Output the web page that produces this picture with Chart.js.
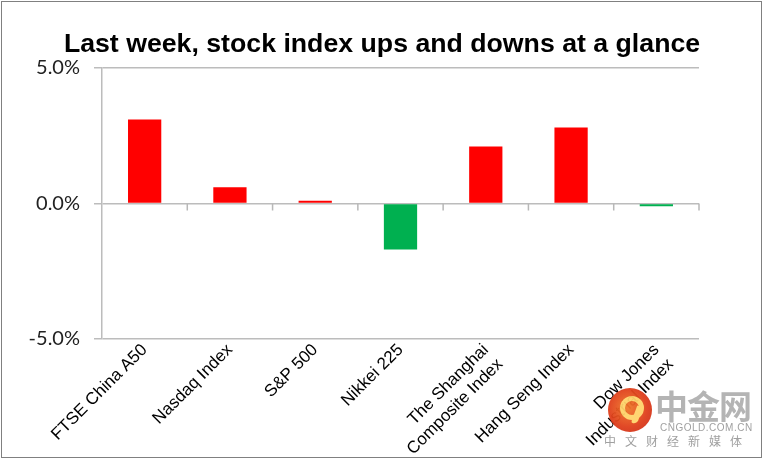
<!DOCTYPE html>
<html><head><meta charset="utf-8">
<script src="https://cdn.jsdelivr.net/npm/chart.js@4.4.0/dist/chart.umd.min.js"></script>
<style>
html,body{margin:0;padding:0;background:#fff;}
#wrap{position:relative;width:764px;height:460px;overflow:hidden;}
#frame{position:absolute;left:1px;top:1px;width:759px;height:455px;border:1px solid #808080;pointer-events:none;}
canvas{position:absolute;left:0;top:0;}
#title{position:absolute;left:0;width:764px;top:28px;text-align:center;font-family:"Liberation Sans";font-weight:700;font-size:26.7px;color:#000;white-space:nowrap;}
#logo{position:absolute;left:608px;top:388px;width:44px;height:44px;border-radius:50%;background:radial-gradient(circle at 45% 45%,#f07a2a 0%,#e0401c 55%,#c8281a 100%);opacity:0.95;}
#logo span{position:absolute;left:12px;top:8px;width:14px;height:14px;border:5px solid #ffd36b;border-radius:50%;}
#logo i{position:absolute;left:26px;top:18px;width:6px;height:18px;background:#ffd36b;border-radius:0 0 6px 2px;transform:rotate(20deg);}
.wm{position:absolute;font-family:"Noto Sans CJK SC",sans-serif;color:#b4b4b4;white-space:nowrap;}
</style></head>
<body><div id="wrap"><canvas id="c" width="764" height="460"></canvas><div id="frame"></div>
<div id="title">Last week, stock index ups and downs at a glance</div>
<div id="logo"><span></span><i></i></div>
<div class="wm" style="left:655px;top:381px;font-size:33px;font-weight:700;letter-spacing:-1px;">中金网</div>
<div class="wm" style="left:660px;top:422px;font-size:10px;font-family:'Liberation Sans';color:#a0a0a0;letter-spacing:0.5px;">CNGOLD.COM.CN</div>
<div class="wm" style="left:604px;top:432px;font-size:12px;color:#a0a0a0;letter-spacing:9px;">中文财经新媒体</div>
</div>
<script>
const categories = [
  "FTSE China A50",
  "Nasdaq Index",
  "S&P 500",
  "Nikkei 225",
  ["The Shanghai", "Composite Index"],
  "Hang Seng Index",
  ["Dow Jones", "Industrial Index"]
];
const weeklyChange = [3.1, 0.6, 0.1, -1.7, 2.1, 2.8, -0.1];
const yTicks = [-5, 0, 5];
const upColor = "#ff0000";
const downColor = "#00b050";

const zeroTicks = {
  id: "zeroTicks",
  afterDatasetsDraw(chart) {
    const x = chart.scales.x, y = chart.scales.y, ctx = chart.ctx;
    const y0 = y.getPixelForValue(0);
    const n = categories.length;
    ctx.save();
    ctx.strokeStyle = "#b8b8b8";
    ctx.lineWidth = 1.5;
    ctx.beginPath();
    for (let i = 1; i <= n; i++) {
      const px = x.left + i * (x.right - x.left) / n;
      ctx.moveTo(px, y0);
      ctx.lineTo(px, y0 + 7);
    }
    ctx.stroke();
    ctx.restore();
  }
};

new Chart(document.getElementById("c"), {
  type: "bar",
  data: {
    labels: categories,
    datasets: [{
      data: weeklyChange,
      backgroundColor: weeklyChange.map(v => v >= 0 ? upColor : downColor),
      categoryPercentage: 1,
      barPercentage: 0.39
    }]
  },
  plugins: [zeroTicks],
  options: {
    responsive: false,
    animation: false,
    devicePixelRatio: 1,
    layout: { padding: { left: 0, right: 65, top: 68, bottom: 0 } },
    plugins: {
      legend: { display: false },
      tooltip: { enabled: false },
      title: { display: false }
    },
    scales: {
      x: {
        grid: { display: false },
        border: { display: false },
        ticks: {
          color: "#000",
          font: { family: "Liberation Sans", size: 17 },
          minRotation: 45,
          maxRotation: 45,
          autoSkip: false,
          padding: -7
        },
        afterFit(s) { s.height = 121; }
      },
      y: {
        min: -5, max: 5,
        afterBuildTicks(s) { s.ticks = yTicks.map(v => ({ value: v })); },
        grid: { color: "#bcbcbc", lineWidth: 1.5, tickLength: 8, drawTicks: true },
        border: { display: true, color: "#bcbcbc", width: 1.5 },
        ticks: {
          color: "#222",
          font: { family: "Lato", size: 20 },
          padding: 14,
          callback: v => v.toFixed(1) + "%"
        },
        afterFit(s) { s.width = 102; }
      }
    }
  }
});
</script></body></html>
